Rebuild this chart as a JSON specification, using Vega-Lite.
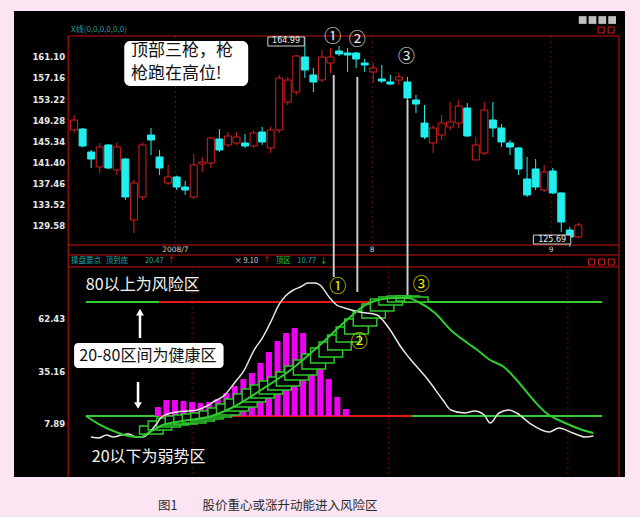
{
"$schema":"https://vega.github.io/schema/vega-lite/v6.json",
"width":611,"height":466,
"padding":{"left":14,"top":11,"right":15,"bottom":4},
"background":"#fbe5f3",
"config":{"view":{"fill":"#000000","stroke":null},"text":{"font":"Noto Sans CJK SC"}},
"title":{"text":"图1　　股价重心或涨升动能进入风险区","orient":"bottom","anchor":"start","dx":144,"offset":22,"font":"Noto Sans CJK SC","fontSize":12.5,"fontWeight":"normal","color":"#2a2a2a"},
"datasets":{
"candles":[
{"x":0,"o":147.53,"h":150.33,"l":146.97,"c":149.39,"d":"up"},
{"x":1,"o":147.71,"h":147.9,"l":144.3,"c":144.54,"d":"dn"},
{"x":2,"o":143.42,"h":143.79,"l":140.43,"c":142.11,"d":"dn"},
{"x":3,"o":140.62,"h":145.1,"l":139.5,"c":144.35,"d":"up"},
{"x":4,"o":144.73,"h":144.9,"l":140.2,"c":140.43,"d":"dn"},
{"x":5,"o":140.06,"h":145.1,"l":139.12,"c":144.35,"d":"up"},
{"x":6,"o":142.11,"h":142.3,"l":134.46,"c":135.02,"d":"dn"},
{"x":7,"o":130.73,"h":138.19,"l":128.3,"c":137.63,"d":"up"},
{"x":8,"o":135.02,"h":145.1,"l":134.46,"c":144.73,"d":"up"},
{"x":9,"o":146.59,"h":147.9,"l":142.86,"c":145.66,"d":"dn"},
{"x":10,"o":142.49,"h":143.79,"l":139.12,"c":140.43,"d":"dn"},
{"x":11,"o":137.63,"h":141.0,"l":137.26,"c":138.75,"d":"up"},
{"x":12,"o":138.75,"h":139.0,"l":136.32,"c":136.88,"d":"dn"},
{"x":13,"o":136.88,"h":138.0,"l":135.39,"c":136.32,"d":"dn"},
{"x":14,"o":135.02,"h":143.05,"l":134.65,"c":140.99,"d":"up"},
{"x":15,"o":141.18,"h":142.49,"l":139.69,"c":141.55,"d":"up"},
{"x":16,"o":141.37,"h":146.2,"l":140.43,"c":146.03,"d":"up"},
{"x":17,"o":145.85,"h":147.71,"l":143.42,"c":143.79,"d":"dn"},
{"x":18,"o":144.73,"h":147.15,"l":144.35,"c":146.41,"d":"up"},
{"x":19,"o":145.1,"h":147.15,"l":144.73,"c":146.22,"d":"up"},
{"x":20,"o":145.1,"h":146.78,"l":144.17,"c":144.54,"d":"dn"},
{"x":21,"o":144.54,"h":147.53,"l":144.17,"c":146.97,"d":"up"},
{"x":22,"o":147.15,"h":148.09,"l":144.73,"c":145.29,"d":"dn"},
{"x":23,"o":144.17,"h":148.09,"l":143.23,"c":147.53,"d":"up"},
{"x":24,"o":147.53,"h":157.8,"l":146.97,"c":157.24,"d":"up"},
{"x":25,"o":152.75,"h":157.42,"l":152.19,"c":156.86,"d":"up"},
{"x":26,"o":154.62,"h":161.53,"l":154.06,"c":161.34,"d":"up"},
{"x":27,"o":161.16,"h":164.99,"l":157.24,"c":158.73,"d":"dn"},
{"x":28,"o":157.8,"h":159.1,"l":154.62,"c":156.49,"d":"dn"},
{"x":29,"o":156.86,"h":162.46,"l":156.49,"c":161.16,"d":"up"},
{"x":30,"o":160.04,"h":162.84,"l":158.17,"c":161.16,"d":"up"},
{"x":31,"o":162.28,"h":163.21,"l":161.34,"c":161.72,"d":"dn"},
{"x":32,"o":161.9,"h":162.84,"l":158.36,"c":161.53,"d":"dn"},
{"x":33,"o":161.9,"h":162.09,"l":159.1,"c":160.78,"d":"dn"},
{"x":34,"o":160.04,"h":160.78,"l":158.36,"c":159.66,"d":"dn"},
{"x":35,"o":158.36,"h":160.04,"l":156.3,"c":159.1,"d":"up"},
{"x":36,"o":157.05,"h":159.66,"l":156.3,"c":156.67,"d":"dn"},
{"x":37,"o":156.49,"h":157.8,"l":155.93,"c":156.11,"d":"dn"},
{"x":38,"o":156.86,"h":158.17,"l":155.93,"c":157.42,"d":"up"},
{"x":39,"o":156.49,"h":157.42,"l":152.19,"c":153.5,"d":"dn"},
{"x":40,"o":153.13,"h":154.06,"l":150.7,"c":152.38,"d":"dn"},
{"x":41,"o":148.83,"h":152.19,"l":145.85,"c":146.22,"d":"dn"},
{"x":42,"o":145.1,"h":148.46,"l":143.23,"c":147.9,"d":"up"},
{"x":43,"o":146.59,"h":150.33,"l":145.66,"c":148.83,"d":"up"},
{"x":44,"o":148.09,"h":152.75,"l":147.53,"c":149.02,"d":"up"},
{"x":45,"o":148.83,"h":153.13,"l":147.9,"c":152.01,"d":"up"},
{"x":46,"o":151.63,"h":152.57,"l":146.22,"c":146.41,"d":"dn"},
{"x":47,"o":141.93,"h":146.22,"l":141.93,"c":144.73,"d":"up"},
{"x":48,"o":143.23,"h":152.75,"l":142.86,"c":151.26,"d":"up"},
{"x":49,"o":149.39,"h":152.75,"l":146.22,"c":147.9,"d":"dn"},
{"x":50,"o":147.9,"h":148.65,"l":144.35,"c":145.29,"d":"dn"},
{"x":51,"o":145.1,"h":145.66,"l":142.86,"c":144.35,"d":"dn"},
{"x":52,"o":144.17,"h":144.35,"l":139.12,"c":140.25,"d":"dn"},
{"x":53,"o":138.38,"h":142.49,"l":135.02,"c":135.39,"d":"dn"},
{"x":54,"o":140.25,"h":142.11,"l":136.32,"c":136.88,"d":"dn"},
{"x":55,"o":136.32,"h":140.99,"l":135.95,"c":139.69,"d":"up"},
{"x":56,"o":139.87,"h":140.43,"l":135.58,"c":135.77,"d":"dn"},
{"x":57,"o":135.77,"h":135.9,"l":128.49,"c":130.35,"d":"dn"},
{"x":58,"o":128.86,"h":129.42,"l":125.69,"c":127.55,"d":"dn"},
{"x":59,"o":127.55,"h":130.17,"l":127.36,"c":129.79,"d":"up"}
],
"frame":[
{"x":-0.69,"x2":63.75,"y":165.08,"y2":165.08},
{"x":-0.69,"x2":63.75,"y":126.06,"y2":126.06},
{"x":-0.69,"x2":63.75,"y":124.19,"y2":124.19},
{"x":-0.69,"x2":63.75,"y":121.95,"y2":121.95},
{"x":-0.69,"x2":-0.69,"y":165.08,"y2":82.74},
{"x":63.75,"x2":63.75,"y":165.08,"y2":82.74}
],
"pgridh":[{"y":129.58},{"y":133.52},{"y":137.46},{"y":141.4},{"y":145.34},{"y":149.28},{"y":153.22},{"y":157.16},{"y":161.1}],
"plabels":[{"x":-1.04,"y":129.58,"t":"129.58"},{"x":-1.04,"y":133.52,"t":"133.52"},{"x":-1.04,"y":137.46,"t":"137.46"},{"x":-1.04,"y":141.4,"t":"141.40"},{"x":-1.04,"y":145.34,"t":"145.34"},{"x":-1.04,"y":149.28,"t":"149.28"},{"x":-1.04,"y":153.22,"t":"153.22"},{"x":-1.04,"y":157.16,"t":"157.16"},{"x":-1.04,"y":161.1,"t":"161.10"}],
"pgridv":[{"x":11.85},{"x":34.87},{"x":55.81}],
"marklines":[{"x":30.38,"y":157.8,"y2":120.08},{"x":33.14,"y":157.42,"y2":117.28},{"x":39.01,"y":153.13,"y2":116.72}],
"notebox":[{"x":5.87,"x2":20.37,"y":164.14,"y2":155.74}],
"notetext":[{"x":6.67,"y":163.77,"t":"顶部三枪，枪\n枪跑在高位!"}],
"pricebox":[{"x":22.67,"x2":26.93,"y":164.89,"y2":163.21},{"x":53.74,"x2":58.11,"y":127.92,"y2":126.24}],
"pricelbl":[{"x":24.8,"y":164.05,"t":"164.99"},{"x":55.93,"y":127.08,"t":"125.69"}],
"info":[
{"x":-0.35,"t":"操盘要点","k":"teal"},{"x":3.68,"t":"顶到底","k":"teal"},{"x":8.29,"t":"20.47","k":"teal"},{"x":10.93,"t":"↑","k":"red"},
{"x":18.76,"t":"× 9.10","k":"gray"},{"x":22.09,"t":"↑","k":"red"},{"x":23.59,"t":"顶区","k":"grn"},{"x":26.12,"t":"10.77","k":"teal"},{"x":28.77,"t":"↓","k":"grn"}
],
"xlbl":[{"x":11.85,"t":"2008/7"},{"x":34.87,"t":"8"},{"x":55.81,"t":"9"}],
"topcirc":[{"x":30.26,"y":164.89,"t":"①"},{"x":33.14,"y":164.33,"t":"②"},{"x":38.9,"y":161.16,"t":"③"}],
"xline":[{"x":-0.35,"y":166.2,"t":"X线(0,0,0,0,0,0)"}],
"icons":[{"x":59.5},{"x":60.65},{"x":61.8},{"x":62.95}],
"ricons":[{"x":61.67,"y":166.2},{"x":62.83,"y":166.2},{"x":60.55,"y":122.88},{"x":61.7,"y":122.88},{"x":62.85,"y":122.88}],
"igridh":[{"y":55.16},{"y":28.15},{"y":0.62}],
"ilabels":[{"x":-1.04,"y":62.43,"t":"62.43"},{"x":-1.04,"y":35.16,"t":"35.16"},{"x":-1.04,"y":7.89,"t":"7.89"}],
"igridv":[{"x":13.81},{"x":36.82},{"x":57.77}],
"zones":[
{"x":1.38,"x2":10.01,"y":71.26,"k":"grn"},{"x":10.01,"x2":40.28,"y":71.26,"k":"red"},{"x":40.28,"x2":61.79,"y":71.26,"k":"grn"},
{"x":1.38,"x2":10.01,"y":12.05,"k":"grn"},{"x":10.01,"x2":39.47,"y":12.05,"k":"red"},{"x":39.47,"x2":61.79,"y":12.05,"k":"grn"}
],
"mbars":[
{"x":9.8,"y":16.72},{"x":10.8,"y":20.36},{"x":11.8,"y":20.36},{"x":12.8,"y":19.84},{"x":13.8,"y":19.32},{"x":14.8,"y":18.8},
{"x":15.8,"y":19.32},{"x":16.8,"y":20.88},{"x":17.8,"y":24.0},{"x":18.8,"y":27.63},{"x":19.8,"y":31.27},{"x":20.8,"y":34.39},
{"x":21.8,"y":39.57},{"x":22.8,"y":45.3},{"x":23.8,"y":51.01},{"x":24.8,"y":55.17},{"x":25.8,"y":57.76},{"x":26.8,"y":55.17},
{"x":27.8,"y":44.0},{"x":28.8,"y":36.46},{"x":29.8,"y":31.27},{"x":30.8,"y":21.92},{"x":31.8,"y":15.68}
],
"boxes":[
{"x":7.66,"x2":10.42,"y":6.85,"y2":2.7},{"x":8.66,"x2":11.42,"y":9.45,"y2":4.78},{"x":9.66,"x2":12.42,"y":11.01,"y2":6.33},
{"x":10.66,"x2":13.42,"y":12.05,"y2":7.37},{"x":11.66,"x2":14.42,"y":12.57,"y2":7.89},{"x":12.66,"x2":15.42,"y":13.09,"y2":8.41},
{"x":13.66,"x2":16.42,"y":13.61,"y2":9.45},{"x":14.66,"x2":17.42,"y":14.64,"y2":10.49},{"x":15.66,"x2":18.42,"y":16.2,"y2":11.53},
{"x":16.66,"x2":19.42,"y":18.28,"y2":12.57},{"x":17.66,"x2":20.42,"y":20.88,"y2":14.64},{"x":18.66,"x2":21.42,"y":23.47,"y2":16.72},
{"x":19.66,"x2":22.42,"y":26.07,"y2":19.32},{"x":20.66,"x2":23.42,"y":28.15,"y2":21.4},{"x":21.66,"x2":24.42,"y":30.23,"y2":23.47},
{"x":22.66,"x2":25.42,"y":32.3,"y2":25.55},{"x":23.66,"x2":26.42,"y":34.9,"y2":27.63},{"x":24.66,"x2":27.42,"y":38.02,"y2":30.75},
{"x":25.66,"x2":28.42,"y":41.13,"y2":33.34},{"x":26.66,"x2":29.42,"y":44.25,"y2":36.46},{"x":27.66,"x2":30.42,"y":47.37,"y2":39.58},
{"x":28.66,"x2":31.42,"y":50.48,"y2":42.69},{"x":29.66,"x2":32.42,"y":54.12,"y2":46.33},{"x":30.66,"x2":33.42,"y":58.28,"y2":50.48},
{"x":31.66,"x2":34.42,"y":62.43,"y2":54.64},{"x":32.66,"x2":35.42,"y":66.59,"y2":58.8},{"x":33.66,"x2":36.42,"y":70.22,"y2":62.95},
{"x":34.66,"x2":37.42,"y":72.82,"y2":66.59},{"x":35.66,"x2":38.42,"y":73.86,"y2":69.7},{"x":36.66,"x2":39.42,"y":74.38,"y2":71.26},
{"x":37.66,"x2":40.42,"y":74.38,"y2":71.78},{"x":38.66,"x2":41.42,"y":73.86,"y2":71.26}
],
"white":[
{"x":1.96,"y":1.14},{"x":2.88,"y":0.62},{"x":3.8,"y":2.18},{"x":4.6,"y":1.14},{"x":5.52,"y":2.18},{"x":6.44,"y":2.7},{"x":7.25,"y":1.14},{"x":8.06,"y":1.14},
{"x":8.86,"y":3.74},{"x":9.55,"y":7.37},{"x":10.13,"y":11.01},{"x":10.93,"y":13.09},{"x":12.08,"y":14.13},{"x":13.23,"y":14.64},{"x":14.38,"y":15.16},
{"x":15.54,"y":17.24},{"x":16.46,"y":19.84},{"x":17.49,"y":22.44},{"x":18.76,"y":29.19},{"x":19.91,"y":35.94},{"x":21.06,"y":46.33},{"x":22.09,"y":53.08},
{"x":23.01,"y":60.87},{"x":23.94,"y":69.7},{"x":24.74,"y":74.38},{"x":25.66,"y":77.49},{"x":26.47,"y":79.05},{"x":27.39,"y":81.13},{"x":28.19,"y":81.13},
{"x":28.77,"y":80.09},{"x":29.92,"y":73.34},{"x":30.72,"y":69.7},{"x":31.65,"y":68.15},{"x":33.37,"y":66.07},{"x":35.44,"y":64.51},{"x":36.82,"y":57.76},
{"x":38.32,"y":47.37},{"x":39.13,"y":42.69},{"x":41.43,"y":30.75},{"x":43.15,"y":20.36},{"x":44.07,"y":15.16},{"x":45.68,"y":13.61},{"x":46.84,"y":14.64},
{"x":47.99,"y":12.57},{"x":48.68,"y":8.41},{"x":49.71,"y":13.61},{"x":50.86,"y":15.16},{"x":51.78,"y":13.61},{"x":53.28,"y":8.41},{"x":55.58,"y":3.74},
{"x":56.73,"y":5.82},{"x":58.34,"y":3.22},{"x":59.84,"y":1.14},{"x":60.76,"y":1.66}
],
"green":[
{"x":1.38,"y":12.05},{"x":2.88,"y":7.89},{"x":4.6,"y":4.26},{"x":6.33,"y":1.66},{"x":7.71,"y":1.14},{"x":8.86,"y":3.74},{"x":10.36,"y":7.37},
{"x":12.66,"y":9.45},{"x":16.11,"y":12.05},{"x":18.41,"y":16.2},{"x":21.86,"y":25.55},{"x":25.32,"y":35.94},{"x":28.77,"y":48.92},{"x":31.65,"y":60.87},
{"x":34.52,"y":70.74},{"x":37.4,"y":73.34},{"x":39.13,"y":73.34},{"x":40.28,"y":71.26},{"x":42.23,"y":65.54},{"x":44.07,"y":56.72},{"x":46.03,"y":49.96},
{"x":47.18,"y":46.33},{"x":48.68,"y":41.13},{"x":50.29,"y":37.5},{"x":51.78,"y":30.75},{"x":53.74,"y":20.36},{"x":55.24,"y":13.61},{"x":57.19,"y":8.93},
{"x":59.49,"y":4.78},{"x":60.76,"y":3.22}
],
"hbox":[{"x":0,"x2":17.49,"y":49.96,"y2":36.97}],
"htext":[{"x":8.63,"y":43.22,"t":"20-80区间为健康区"}],
"zlabels":[{"x":1.38,"y":80.09,"t":"80以上为风险区"},{"x":2.07,"y":-9.25,"t":"20以下为弱势区"}],
"arrows":[{"x":7.71,"y":52.57,"y2":65.0},{"x":7.48,"y":29.71,"y2":18.5}],
"heads":[{"x":7.71,"y":66.0,"s":"triangle-up"},{"x":7.48,"y":17.5,"s":"triangle-down"}],
"botcirc":[{"x":30.84,"y":79.05,"t":"①"},{"x":33.37,"y":50.48,"t":"②"},{"x":40.62,"y":80.09,"t":"③"}]
},
"encoding":{"x":{"field":"x","type":"quantitative","scale":{"domain":[-6.444,63.87],"nice":false,"zero":false},"axis":null}},
"resolve":{"scale":{"y":"independent"}},
"layer":[
{"layer":[
{"data":{"name":"pgridh"},"mark":{"type":"rule","color":"#7a0a0a","strokeDash":[2,3],"strokeWidth":1},
 "encoding":{"x":{"datum":-0.69,"type":"quantitative"},"x2":{"datum":61.91},
 "y":{"field":"y","type":"quantitative","scale":{"domain":[82.742,169.744],"nice":false,"zero":false},"axis":null}}},
{"data":{"name":"plabels"},"mark":{"type":"text","align":"right","baseline":"middle","fontSize":8.5,"fontWeight":"bold","font":"DejaVu Sans","color":"#e8e8e8"},
 "encoding":{"y":{"field":"y","type":"quantitative","scale":{"domain":[82.742,169.744],"nice":false,"zero":false},"axis":null},"text":{"field":"t"}}},
{"data":{"name":"pgridv"},"mark":{"type":"rule","color":"#7a0a0a","strokeDash":[2,3],"strokeWidth":1},
 "encoding":{"y":{"datum":165.08,"type":"quantitative","scale":{"domain":[82.742,169.744],"nice":false,"zero":false},"axis":null},"y2":{"datum":126.06}}},
{"data":{"name":"frame"},"mark":{"type":"rule","color":"#c81414","strokeWidth":1},
 "encoding":{"x2":{"field":"x2"},"y":{"field":"y","type":"quantitative","scale":{"domain":[82.742,169.744],"nice":false,"zero":false},"axis":null},"y2":{"field":"y2"}}},
{"data":{"name":"candles"},"mark":{"type":"rule","strokeWidth":1},
 "encoding":{"y":{"field":"l","type":"quantitative","scale":{"domain":[82.742,169.744],"nice":false,"zero":false},"axis":null},"y2":{"field":"h"},
 "color":{"field":"d","type":"nominal","scale":{"domain":["up","dn","grn","red","teal","gray"],"range":["#d42020","#22eeee","#33cc33","#e01818","#1fa8a8","#d0d0d0"]},"legend":null}}},
{"data":{"name":"candles"},"mark":{"type":"bar","size":7,"strokeWidth":1},
 "encoding":{"y":{"field":"o","type":"quantitative","scale":{"domain":[82.742,169.744],"nice":false,"zero":false},"axis":null},"y2":{"field":"c"},
 "fill":{"field":"d","type":"nominal","scale":{"domain":["up","dn"],"range":["#000000","#22eeee"]},"legend":null},
 "stroke":{"field":"d","type":"nominal","scale":{"domain":["up","dn"],"range":["#d42020","#22eeee"]},"legend":null}}},
{"data":{"name":"marklines"},"mark":{"type":"rule","color":"#c8c8c8","strokeWidth":2},
 "encoding":{"y":{"field":"y","type":"quantitative","scale":{"domain":[82.742,169.744],"nice":false,"zero":false},"axis":null},"y2":{"field":"y2"}}},
{"data":{"name":"notebox"},"mark":{"type":"rect","fill":"#ffffff","cornerRadius":6},
 "encoding":{"x2":{"field":"x2"},"y":{"field":"y","type":"quantitative","scale":{"domain":[82.742,169.744],"nice":false,"zero":false},"axis":null},"y2":{"field":"y2"}}},
{"data":{"name":"notetext"},"mark":{"type":"text","align":"left","baseline":"top","fontSize":17,"lineBreak":"\n","lineHeight":23,"color":"#111111"},
 "encoding":{"y":{"field":"y","type":"quantitative","scale":{"domain":[82.742,169.744],"nice":false,"zero":false},"axis":null},"text":{"field":"t"}}},
{"data":{"name":"pricebox"},"mark":{"type":"rect","fill":"#000000","stroke":"#d0d0d0","strokeWidth":1},
 "encoding":{"x2":{"field":"x2"},"y":{"field":"y","type":"quantitative","scale":{"domain":[82.742,169.744],"nice":false,"zero":false},"axis":null},"y2":{"field":"y2"}}},
{"data":{"name":"pricelbl"},"mark":{"type":"text","align":"center","baseline":"middle","fontSize":8,"font":"DejaVu Sans","color":"#eeeeee"},
 "encoding":{"y":{"field":"y","type":"quantitative","scale":{"domain":[82.742,169.744],"nice":false,"zero":false},"axis":null},"text":{"field":"t"}}},
{"data":{"name":"info"},"mark":{"type":"text","align":"left","baseline":"middle","fontSize":7.5},
 "encoding":{"y":{"datum":123.07,"type":"quantitative","scale":{"domain":[82.742,169.744],"nice":false,"zero":false},"axis":null},"text":{"field":"t"},
 "color":{"field":"k","type":"nominal","scale":{"domain":["up","dn","grn","red","teal","gray"],"range":["#d42020","#22eeee","#33cc33","#e01818","#1fa8a8","#d0d0d0"]},"legend":null}}},
{"data":{"name":"xlbl"},"mark":{"type":"text","align":"center","baseline":"middle","fontSize":7.5,"font":"DejaVu Sans","color":"#cccccc"},
 "encoding":{"y":{"datum":125.12,"type":"quantitative","scale":{"domain":[82.742,169.744],"nice":false,"zero":false},"axis":null},"text":{"field":"t"}}},
{"data":{"name":"topcirc"},"mark":{"type":"text","align":"center","baseline":"middle","fontSize":17,"color":"#e6e6e6"},
 "encoding":{"y":{"field":"y","type":"quantitative","scale":{"domain":[82.742,169.744],"nice":false,"zero":false},"axis":null},"text":{"field":"t"}}},
{"data":{"name":"xline"},"mark":{"type":"text","align":"left","baseline":"middle","fontSize":8,"color":"#2a9c9c"},
 "encoding":{"y":{"field":"y","type":"quantitative","scale":{"domain":[82.742,169.744],"nice":false,"zero":false},"axis":null},"text":{"field":"t"}}},
{"data":{"name":"icons"},"mark":{"type":"point","shape":"square","filled":true,"size":60,"color":"#bfbfbf","opacity":1},
 "encoding":{"y":{"datum":168.06,"type":"quantitative","scale":{"domain":[82.742,169.744],"nice":false,"zero":false},"axis":null}}},
{"data":{"name":"ricons"},"mark":{"type":"point","shape":"square","filled":false,"size":36,"color":"#d42020","strokeWidth":1,"opacity":1},
 "encoding":{"y":{"field":"y","type":"quantitative","scale":{"domain":[82.742,169.744],"nice":false,"zero":false},"axis":null}}}
]},
{"layer":[
{"data":{"name":"igridh"},"mark":{"type":"rule","color":"#7a0a0a","strokeDash":[2,3],"strokeWidth":1},
 "encoding":{"x":{"datum":-0.69,"type":"quantitative"},"x2":{"datum":61.91},
 "y":{"field":"y","type":"quantitative","scale":{"domain":[-19.63,222.41],"nice":false,"zero":false},"axis":null}}},
{"data":{"name":"ilabels"},"mark":{"type":"text","align":"right","baseline":"middle","fontSize":8.5,"fontWeight":"bold","font":"DejaVu Sans","color":"#e8e8e8"},
 "encoding":{"y":{"field":"y","type":"quantitative","scale":{"domain":[-19.63,222.41],"nice":false,"zero":false},"axis":null},"text":{"field":"t"}}},
{"data":{"name":"igridv"},"mark":{"type":"rule","color":"#7a0a0a","strokeDash":[2,3],"strokeWidth":1},
 "encoding":{"y":{"datum":89.44,"type":"quantitative","scale":{"domain":[-19.63,222.41],"nice":false,"zero":false},"axis":null},"y2":{"datum":-19.12}}},
{"data":{"name":"zones"},"mark":{"type":"rule","strokeWidth":2},
 "encoding":{"x2":{"field":"x2"},"y":{"field":"y","type":"quantitative","scale":{"domain":[-19.63,222.41],"nice":false,"zero":false},"axis":null},
 "color":{"field":"k","type":"nominal","scale":{"domain":["up","dn","grn","red","teal","gray"],"range":["#d42020","#22eeee","#33cc33","#e01818","#1fa8a8","#d0d0d0"]},"legend":null}}},
{"data":{"name":"mbars"},"mark":{"type":"bar","size":6,"color":"#f000f0"},
 "encoding":{"y":{"field":"y","type":"quantitative","scale":{"domain":[-19.63,222.41],"nice":false,"zero":false},"axis":null},"y2":{"datum":12.05}}},
{"data":{"name":"boxes"},"mark":{"type":"rect","fill":"#000000","stroke":"#2ecc2e","strokeWidth":1.4},
 "encoding":{"x2":{"field":"x2"},"y":{"field":"y","type":"quantitative","scale":{"domain":[-19.63,222.41],"nice":false,"zero":false},"axis":null},"y2":{"field":"y2"}}},
{"data":{"name":"white"},"mark":{"type":"line","color":"#e6e6e6","strokeWidth":1.5,"interpolate":"monotone"},
 "encoding":{"y":{"field":"y","type":"quantitative","scale":{"domain":[-19.63,222.41],"nice":false,"zero":false},"axis":null}}},
{"data":{"name":"green"},"mark":{"type":"line","color":"#30cc30","strokeWidth":2,"interpolate":"monotone"},
 "encoding":{"y":{"field":"y","type":"quantitative","scale":{"domain":[-19.63,222.41],"nice":false,"zero":false},"axis":null}}},
{"data":{"name":"hbox"},"mark":{"type":"rect","fill":"#ffffff","cornerRadius":4},
 "encoding":{"x2":{"field":"x2"},"y":{"field":"y","type":"quantitative","scale":{"domain":[-19.63,222.41],"nice":false,"zero":false},"axis":null},"y2":{"field":"y2"}}},
{"data":{"name":"htext"},"mark":{"type":"text","align":"center","baseline":"middle","fontSize":16,"color":"#111111"},
 "encoding":{"y":{"field":"y","type":"quantitative","scale":{"domain":[-19.63,222.41],"nice":false,"zero":false},"axis":null},"text":{"field":"t"}}},
{"data":{"name":"zlabels"},"mark":{"type":"text","align":"left","baseline":"middle","fontSize":16,"color":"#f4f4f4"},
 "encoding":{"y":{"field":"y","type":"quantitative","scale":{"domain":[-19.63,222.41],"nice":false,"zero":false},"axis":null},"text":{"field":"t"}}},
{"data":{"name":"arrows"},"mark":{"type":"rule","color":"#ffffff","strokeWidth":2.5},
 "encoding":{"y":{"field":"y","type":"quantitative","scale":{"domain":[-19.63,222.41],"nice":false,"zero":false},"axis":null},"y2":{"field":"y2"}}},
{"data":{"name":"heads"},"mark":{"type":"point","filled":true,"size":60,"color":"#ffffff","opacity":1},
 "encoding":{"y":{"field":"y","type":"quantitative","scale":{"domain":[-19.63,222.41],"nice":false,"zero":false},"axis":null},"shape":{"field":"s","type":"nominal","scale":null}}},
{"data":{"name":"botcirc"},"mark":{"type":"text","align":"center","baseline":"middle","fontSize":17,"color":"#eeee10"},
 "encoding":{"y":{"field":"y","type":"quantitative","scale":{"domain":[-19.63,222.41],"nice":false,"zero":false},"axis":null},"text":{"field":"t"}}}
]}
]
}
